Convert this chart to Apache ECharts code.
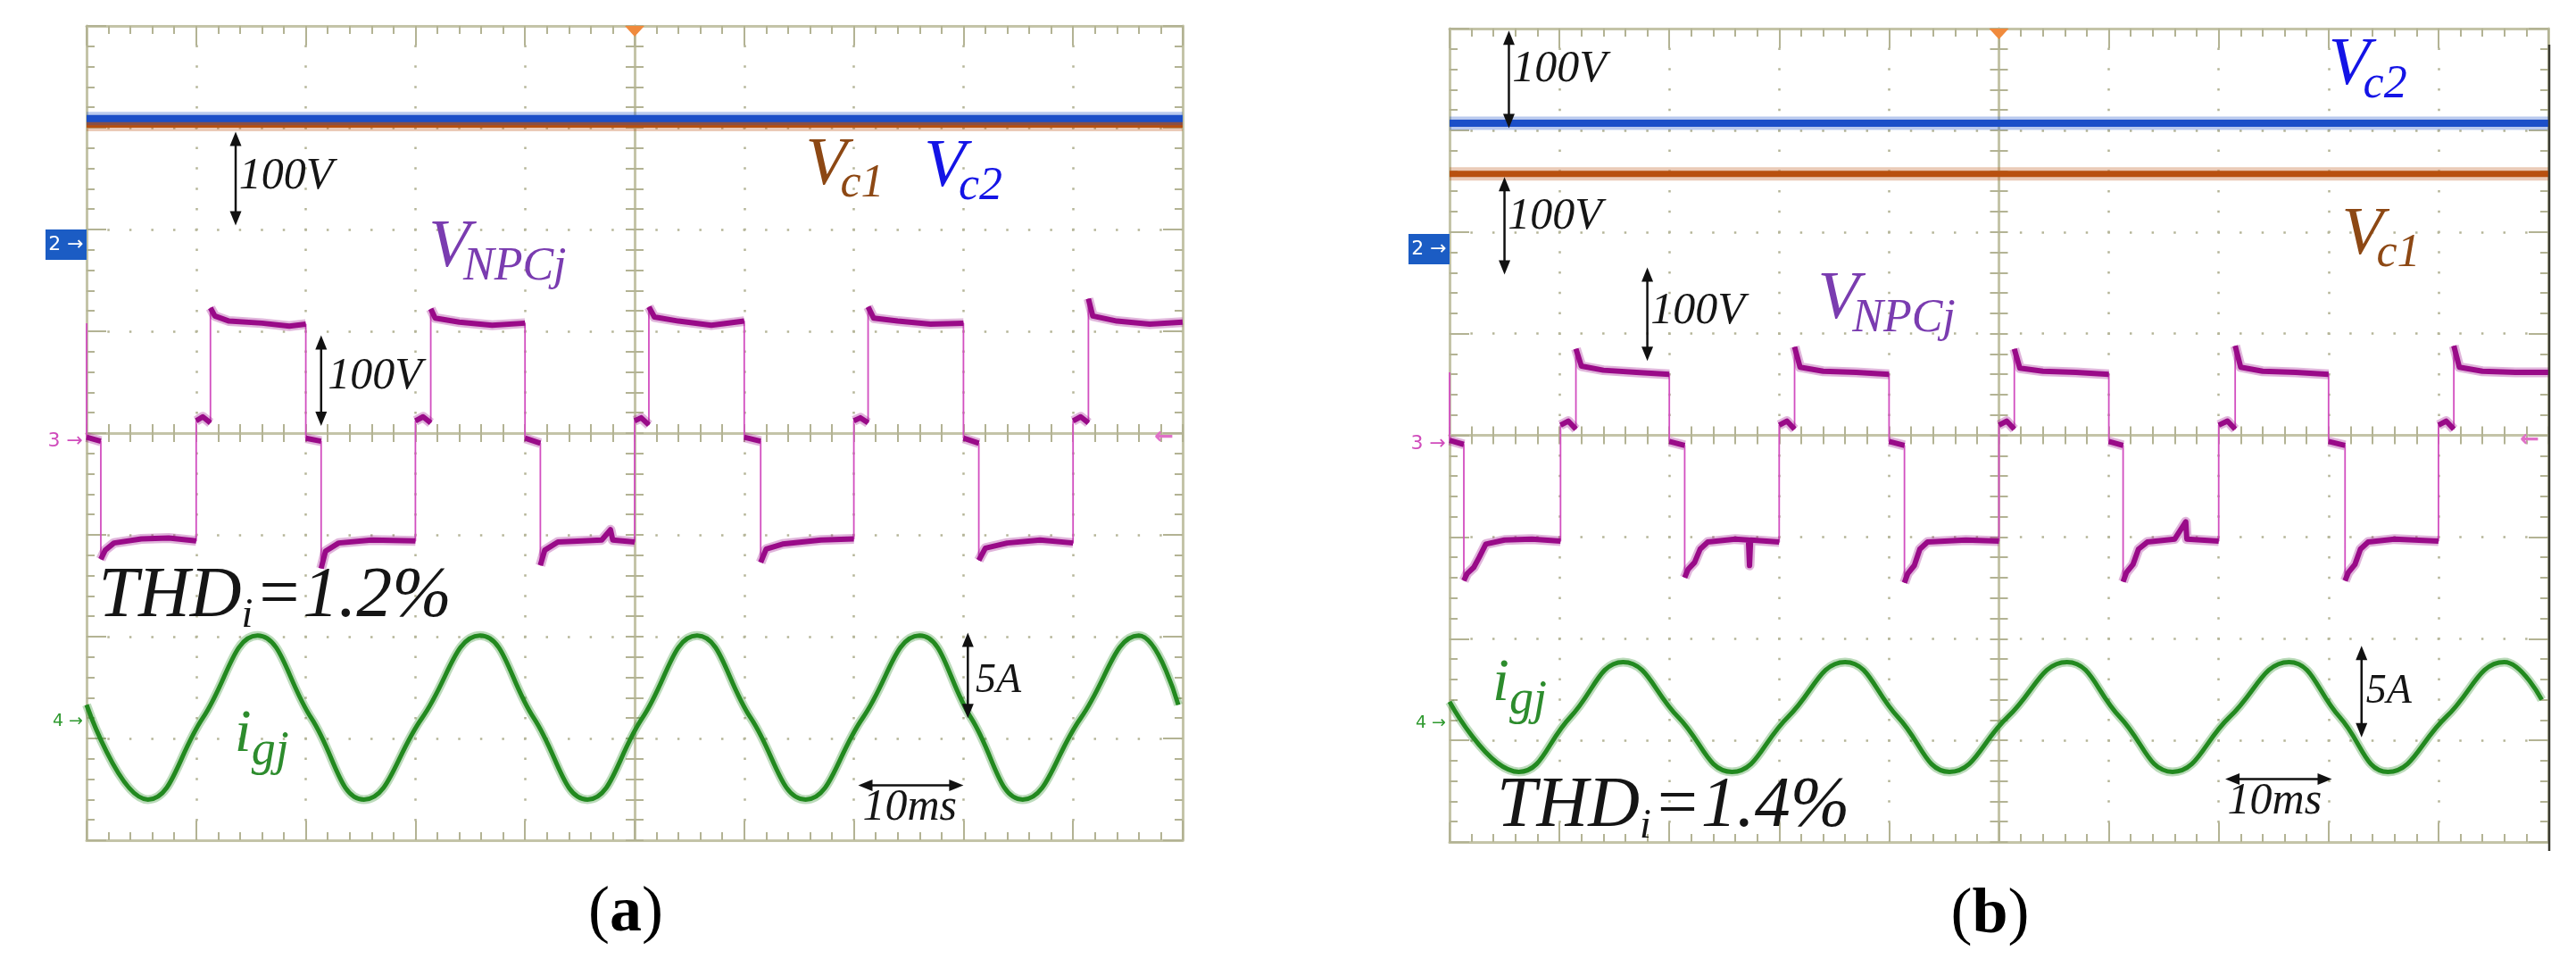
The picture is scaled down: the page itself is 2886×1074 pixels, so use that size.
<!DOCTYPE html>
<html><head><meta charset="utf-8">
<script src="https://cdn.jsdelivr.net/npm/echarts@6/dist/echarts.min.js"></script>
<style>html,body{margin:0;padding:0;background:#fff}#c{width:2886px;height:1074px}</style>
</head><body><div id="c"></div>
<script>
// ===== DATA (time in divisions of 10 ms, level in vertical divisions) =====
const vc1A = [[0, 3.03], [10, 3.03]];
const vc2A = [[0, 3.09], [10, 3.09]];
const vc1B = [[0, 2.57], [10, 2.57]];
const vc2B = [[0, 3.07], [10, 3.07]];

const vnpcA = [
 [0,1.08],[0,-0.04],[0.13,-0.08],
 [0.13,-1.24],[0.17,-1.15],[0.25,-1.08],[0.5,-1.04],[0.75,-1.03],[1.0,-1.06],
 [1.0,0.12],[1.06,0.16],[1.13,0.1],
 [1.13,1.23],[1.17,1.15],[1.3,1.1],[1.6,1.08],[1.85,1.05],[2.0,1.07],
 [2.0,-0.05],[2.14,-0.08],
 [2.14,-1.33],[2.18,-1.16],[2.3,-1.08],[2.6,-1.05],[3.0,-1.06],
 [3.0,0.12],[3.07,0.16],[3.14,0.1],
 [3.14,1.22],[3.18,1.13],[3.4,1.09],[3.7,1.06],[4.0,1.08],
 [4.0,-0.05],[4.14,-0.1],
 [4.14,-1.3],[4.18,-1.15],[4.3,-1.07],[4.7,-1.05],[4.78,-0.95],[4.8,-1.05],[5.0,-1.07],
 [5.0,0.12],[5.06,0.15],[5.13,0.08],
 [5.13,1.24],[5.18,1.14],[5.4,1.1],[5.7,1.06],[6.0,1.1],
 [6.0,-0.04],[6.15,-0.08],
 [6.15,-1.27],[6.2,-1.14],[6.35,-1.09],[6.7,-1.05],[7.0,-1.04],
 [7.0,0.12],[7.06,0.15],[7.13,0.1],
 [7.13,1.24],[7.18,1.13],[7.4,1.1],[7.7,1.07],[8.0,1.08],
 [8.0,-0.05],[8.14,-0.1],
 [8.14,-1.25],[8.2,-1.13],[8.4,-1.08],[8.7,-1.05],[9.0,-1.08],
 [9.0,0.12],[9.07,0.16],[9.14,0.1],
 [9.14,1.32],[9.18,1.15],[9.4,1.1],[9.7,1.07],[10,1.09]
];
const vnpcB = [
 [0,0.62],[0,-0.05],[0.13,-0.09],
 [0.13,-1.43],[0.16,-1.36],[0.22,-1.3],[0.27,-1.2],[0.33,-1.07],[0.5,-1.03],[0.75,-1.02],[1.01,-1.04],
 [1.01,0.1],[1.08,0.14],[1.15,0.06],
 [1.15,0.85],[1.2,0.68],[1.4,0.64],[1.7,0.62],[2.0,0.6],
 [2.0,-0.06],[2.14,-0.1],
 [2.14,-1.4],[2.17,-1.32],[2.23,-1.25],[2.28,-1.12],[2.35,-1.05],[2.6,-1.02],[2.72,-1.03],[2.73,-1.28],[2.74,-1.03],[3.0,-1.05],
 [3.0,0.1],[3.07,0.14],[3.14,0.06],
 [3.14,0.87],[3.19,0.67],[3.4,0.63],[3.7,0.62],[4.0,0.6],
 [4.0,-0.06],[4.14,-0.1],
 [4.14,-1.45],[4.17,-1.36],[4.23,-1.28],[4.28,-1.12],[4.35,-1.05],[4.7,-1.03],[5.0,-1.04],
 [5.0,0.1],[5.07,0.14],[5.14,0.06],
 [5.14,0.85],[5.19,0.66],[5.4,0.63],[5.7,0.62],[6.0,0.6],
 [6.0,-0.06],[6.13,-0.1],
 [6.13,-1.44],[6.16,-1.35],[6.22,-1.27],[6.27,-1.12],[6.35,-1.05],[6.6,-1.02],[6.7,-0.85],[6.71,-1.02],[7.0,-1.04],
 [7.0,0.1],[7.08,0.14],[7.15,0.06],
 [7.15,0.88],[7.2,0.67],[7.4,0.63],[7.7,0.62],[8.0,0.6],
 [8.0,-0.06],[8.15,-0.1],
 [8.15,-1.43],[8.18,-1.35],[8.24,-1.27],[8.29,-1.12],[8.36,-1.05],[8.6,-1.02],[9.0,-1.04],
 [9.0,0.1],[9.07,0.14],[9.14,0.06],
 [9.14,0.88],[9.19,0.67],[9.4,0.63],[9.7,0.62],[10,0.62]
];
const igA = [[0,-2.67],[0.56,-3.6],[1.06,-2.8],[1.56,-1.99],[2.05,-2.8],[2.53,-3.6],[3.06,-2.8],[3.59,-1.99],[4.08,-2.8],[4.57,-3.6],[5.07,-2.8],[5.57,-1.99],[6.06,-2.8],[6.56,-3.6],[7.08,-2.8],[7.6,-1.99],[8.07,-2.8],[8.54,-3.6],[9.07,-2.8],[9.6,-1.99],[9.96,-2.67]];
const igB = [[0,-2.62],[0.63,-3.31],[1.1,-2.77],[1.58,-2.23],[2.08,-2.77],[2.57,-3.31],[3.08,-2.77],[3.6,-2.23],[4.08,-2.77],[4.55,-3.31],[5.08,-2.77],[5.62,-2.23],[6.1,-2.77],[6.58,-3.31],[7.1,-2.77],[7.64,-2.23],[8.1,-2.77],[8.54,-3.31],[9.07,-2.77],[9.6,-2.23],[9.94,-2.6]];

// annotations (data units)
const plainA = [[1.39,2.52,'100V',50],[2.20,0.55,'100V',50],[8.11,-2.44,'5A',46],[7.08,-3.68,'10ms',50]];
const plainB = [[0.57,3.6,'100V',50],[0.53,2.15,'100V',50],[1.83,1.22,'100V',50],[8.34,-2.52,'5A',46],[7.08,-3.6,'10ms',50]];
const symA = [[3.12,1.59,'V','NPCj','purple'],[6.56,2.40,'V','c1','brown'],[7.64,2.38,'V','c2','blue'],[1.35,-3.17,'i','gj','green']];
const symB = [[3.35,1.10,'V','NPCj','purple'],[8.0,3.40,'V','c2','blue'],[8.12,1.74,'V','c1','brown'],[0.39,-2.65,'i','gj','green']];
const thdA = [0.11,-1.85,'1.2%'];
const thdB = [0.43,-3.90,'1.4%'];
const arrowsA = [['v',1.36,2.96,2.04],['v',2.14,0.96,0.07],['v',8.04,-1.96,-2.80],['h',-3.46,7.04,8.0]];
const arrowsB = [['v',0.54,3.98,3.02],['v',0.50,2.54,1.58],['v',1.80,1.65,0.73],['v',8.30,-2.07,-2.97],['h',-3.38,7.06,8.03]];
const chanLevelsA = [1.85, -0.05, -2.83];
const chanLevelsB = [1.83, -0.05, -2.83];
const captions = ['a','b'];

// ===== STYLE =====
const BORDER = '#c4c4a8', TICK = '#b3b394', DOT = '#b5b598';
const C = {orange:'#b8500f', blue:'#1b4fc8', magenta:'#990a88', pinkEdge:'#d24fc0', green:'#22891f',
  purple:'#7a3cb0', brown:'#8d4814', blueT:'#1414e6', greenT:'#2d8c2d'};
const SERIF = 'Liberation Serif';
const panels = [
  {left:97, top:29, width:1228, height:912, vc1:vc1A, vc2:vc2A, vnpc:vnpcA, ig:igA, plain:plainA, sym:symA, thd:thdA, arrows:arrowsA, ch:chanLevelsA},
  {left:1624, top:32, width:1231, height:911, vc1:vc1B, vc2:vc2B, vnpc:vnpcB, ig:igB, plain:plainB, sym:symB, thd:thdB, arrows:arrowsB, ch:chanLevelsB}
];

function breakVerticals(d){
  const out=[];
  for(let i=0;i<d.length;i++){ out.push(d[i]); if(i<d.length-1 && d[i+1][0]===d[i][0]) out.push([d[i][0],'-']); }
  return out;
}

const grid=[], xAxis=[], yAxis=[], series=[];
panels.forEach((p,pi)=>{
  const r = {left:p.left, top:p.top, width:p.width, height:p.height};
  for(let g=0; g<3; g++) grid.push(Object.assign({containLabel:false}, r));
  const g0 = pi*3;
  const gapV = p.height/40 - 2.5, gapH = p.width/50 - 2.5;
  const mainTick = {show:true, inside:true, length:22, lineStyle:{color:TICK, width:2}};
  const mainMinor = {show:true, splitNumber:5, length:9, lineStyle:{color:TICK, width:2}};
  const cTick = {show:true, inside:true, length:10, lineStyle:{color:TICK, width:2}};
  const cMinor = {show:true, splitNumber:5, length:10, lineStyle:{color:TICK, width:2}};
  const line = (oz)=>({show:true, onZero:oz, lineStyle:{color:BORDER, width:3}});
  xAxis.push({gridIndex:g0, type:'value', min:0, max:10, interval:1, position:'bottom', axisLine:line(false), axisTick:mainTick, minorTick:mainMinor, axisLabel:{show:false},
    splitLine:{show:true, lineStyle:{color:DOT, width:2.5, type:[2.5,gapV], dashOffset:1.25}}});
  xAxis.push({gridIndex:g0, type:'value', min:0, max:10, interval:1, position:'top', axisLine:line(false), axisTick:mainTick, minorTick:mainMinor, axisLabel:{show:false}, splitLine:{show:false}});
  yAxis.push({gridIndex:g0, type:'value', min:-4, max:4, interval:1, position:'left', axisLine:line(false), axisTick:mainTick, minorTick:mainMinor, axisLabel:{show:false},
    splitLine:{show:true, lineStyle:{color:DOT, width:2.5, type:[2.5,gapH], dashOffset:1.25}}});
  yAxis.push({gridIndex:g0, type:'value', min:-4, max:4, interval:1, position:'right', axisLine:line(false), axisTick:mainTick, minorTick:mainMinor, axisLabel:{show:false}, splitLine:{show:false}});
  xAxis.push({gridIndex:g0+1, type:'value', min:-5, max:5, interval:1, position:'bottom', axisLine:line(true), axisTick:cTick, minorTick:cMinor, axisLabel:{show:false}, splitLine:{show:false}});
  yAxis.push({gridIndex:g0+1, type:'value', min:-4, max:4, interval:1, position:'left', axisLine:line(true), axisTick:cTick, minorTick:cMinor, axisLabel:{show:false}, splitLine:{show:false}});
  xAxis.push({gridIndex:g0+2, type:'value', min:-5, max:5, interval:1, position:'top', axisLine:line(true), axisTick:cTick, minorTick:cMinor, axisLabel:{show:false}, splitLine:{show:false}});
  yAxis.push({gridIndex:g0+2, type:'value', min:-4, max:4, interval:1, position:'right', axisLine:line(true), axisTick:cTick, minorTick:cMinor, axisLabel:{show:false}, splitLine:{show:false}});
  const ax = pi*4;
  const base = {type:'line', xAxisIndex:ax, yAxisIndex:ax, showSymbol:false, symbol:'none', silent:true, animation:false, z:3};
  series.push(Object.assign({}, base, {data:p.vc1, lineStyle:{color:C.orange, width:15, opacity:0.3}}));
  series.push(Object.assign({}, base, {data:p.vc1, lineStyle:{color:C.orange, width:7}}));
  series.push(Object.assign({}, base, {data:p.vc2, lineStyle:{color:C.blue, width:15, opacity:0.3}}));
  series.push(Object.assign({}, base, {data:p.vc2, lineStyle:{color:C.blue, width:8}}));
  series.push(Object.assign({}, base, {data:p.vnpc, lineStyle:{color:C.pinkEdge, width:1.8}}));
  series.push(Object.assign({}, base, {data:breakVerticals(p.vnpc), connectNulls:false, lineStyle:{color:C.magenta, width:11, opacity:0.3, join:'round'}}));
  series.push(Object.assign({}, base, {data:breakVerticals(p.vnpc), connectNulls:false, lineStyle:{color:C.magenta, width:6, join:'round'}}));
  series.push(Object.assign({}, base, {data:p.ig, smooth:0.45, lineStyle:{color:C.green, width:10, opacity:0.3}}));
  series.push(Object.assign({}, base, {data:p.ig, smooth:0.45, lineStyle:{color:C.green, width:5}}));
});

const chart = echarts.init(document.getElementById('c'), null, {renderer:'canvas'});
chart.setOption({animation:false, backgroundColor:'#ffffff', grid, xAxis, yAxis, series});

// ===== annotations =====
const mctx = document.createElement('canvas').getContext('2d');
function tw(t,fs,style,weight,fam){ mctx.font=`${style||'italic'} ${weight||'normal'} ${fs}px "${fam||SERIF}"`; return mctx.measureText(t).width; }
function textEl(x, yMid, t, fs, fill, align, style, weight, fam){
  return {type:'text', silent:true, z:100, style:{text:t, x, y:yMid, fontSize:fs, fontStyle:style||'italic', fontWeight:weight||'normal', fontFamily:fam||SERIF,
    fill, align:align||'left', verticalAlign:'middle', textAlign:align||'left', textVerticalAlign:'middle'}};
}
const colorOf = {purple:C.purple, brown:C.brown, blue:C.blueT, green:C.greenT};
const sizes = {V:[76,52,-0.1,0.17], i:[68,54,0.0,0.2]};
const graphics=[];
panels.forEach((p,pi)=>{
  const gi = pi*3;
  const P = (t,v)=>chart.convertToPixel({gridIndex:gi}, [t,v]);
  p.plain.forEach(([t,v,s,fs])=>{ const [x,y]=P(t,v); graphics.push(textEl(x,y,s,fs,'#151515')); });
  p.sym.forEach(([t,v,m,sb,col])=>{
    const [x,B]=P(t,v); const [fm,fsb,kern,dy]=sizes[m];
    graphics.push(textEl(x, B-0.34*fm, m, fm, colorOf[col]));
    graphics.push(textEl(x+tw(m,fm)+kern*fm, B+dy*fm-0.34*fsb, sb, fsb, colorOf[col]));
  });
  { const [t,v,val]=p.thd; const [x,B]=P(t,v);
    const w1=tw('THD',80); graphics.push(textEl(x,B-0.34*80,'THD',80,'#151515'));
    graphics.push(textEl(x+w1,B+10-0.34*46,'i',46,'#151515'));
    graphics.push(textEl(x+w1+tw('i',46)+2,B-0.34*80,'='+val,80,'#151515')); }
  p.arrows.forEach(a=>{
    const st={stroke:'#111', lineWidth:2.5}, hl=16, hw=6.5;
    if(a[0]==='v'){ const [x,y1]=P(a[1],a[2]); const [,y2]=P(a[1],a[3]);
      graphics.push({type:'line', silent:true, z:100, shape:{x1:x,y1:y1+hl-2,x2:x,y2:y2-hl+2}, style:st});
      graphics.push({type:'polygon', silent:true, z:100, shape:{points:[[x,y1],[x-hw,y1+hl],[x+hw,y1+hl]]}, style:{fill:'#111'}});
      graphics.push({type:'polygon', silent:true, z:100, shape:{points:[[x,y2],[x-hw,y2-hl],[x+hw,y2-hl]]}, style:{fill:'#111'}});
    } else { const [x1,y]=P(a[2],a[1]); const [x2]=P(a[3],a[1]);
      graphics.push({type:'line', silent:true, z:100, shape:{x1:x1+hl-2,y1:y,x2:x2-hl+2,y2:y}, style:st});
      graphics.push({type:'polygon', silent:true, z:100, shape:{points:[[x1,y],[x1+hl,y-hw],[x1+hl,y+hw]]}, style:{fill:'#111'}});
      graphics.push({type:'polygon', silent:true, z:100, shape:{points:[[x2,y],[x2-hl,y-hw],[x2-hl,y+hw]]}, style:{fill:'#111'}});
    }
  });
  const L = p.left;
  { const [,y]=P(0,p.ch[0]);
    graphics.push({type:'rect', silent:true, z:100, shape:{x:L-46,y:y-17,width:46,height:34}, style:{fill:'#1b5cc4'}});
    graphics.push(textEl(L-23,y,'2 →',22,'#ffffff','center','normal','normal','DejaVu Sans')); }
  { const [,y]=P(0,p.ch[1]); graphics.push(textEl(L-4,y+4,'3 →',22,'#d04cbc','right','normal','normal','DejaVu Sans')); }
  { const [,y]=P(0,p.ch[2]); graphics.push(textEl(L-4,y,'4 →',19,'#2f9a2f','right','normal','normal','DejaVu Sans')); }
  { const [x,y]=P(5,4); graphics.push({type:'polygon', silent:true, z:100, shape:{points:[[x-11,y],[x+11,y],[x,y+12]]}, style:{fill:'#f08a3c'}}); }
  { const [x,y]=P(9.83,-0.05); graphics.push(textEl(x,y,'←',26,'#e070c8','center','normal','bold','DejaVu Sans')); }
  graphics.push({type:'text', silent:true, z:100, style:{text:'{p|(}{b|'+captions[pi]+'}{p|)}', x:p.left+p.width/2-10, y:p.top+p.height+82, align:'center', verticalAlign:'middle',
    rich:{p:{fontSize:72, fontFamily:SERIF, fontWeight:'normal', fill:'#000'}, b:{fontSize:72, fontFamily:SERIF, fontWeight:'bold', fill:'#000'}}}});
});
{ const p=panels[1]; graphics.push({type:'line', silent:true, z:101, shape:{x1:p.left+p.width+1,y1:p.top+18,x2:p.left+p.width+1,y2:p.top+p.height+10}, style:{stroke:'#3a3a30', lineWidth:2.5}}); }
chart.setOption({graphic:graphics});
</script></body></html>
